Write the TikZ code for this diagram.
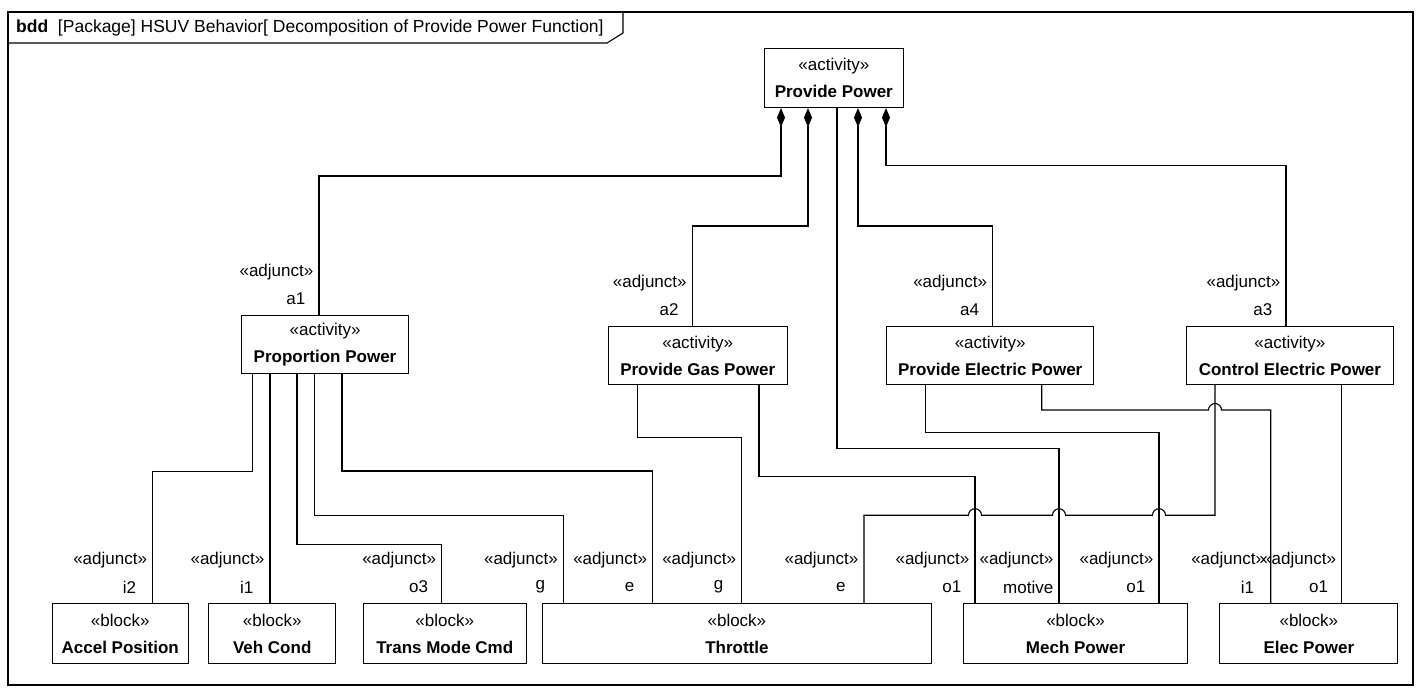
\documentclass[tikz,border=0pt]{standalone}
\usepackage{fontspec}
\setmainfont{Liberation Sans}
\usetikzlibrary{arrows.meta}
\newcommand\adjlabel[4]{%
  \node[stereo] (#4s) at (#1-5.5,#2-43) {«adjunct»};
  \node[rolename] (#4n) at (#1-5.5,#2-16) {#3};}
\begin{document}
\begin{tikzpicture}[x=1pt,y=-1pt,
  every node/.style={font=\fontsize{17}{27}\selectfont},
  box/.style={draw, line width=1.1pt, inner sep=0pt, align=center, anchor=north west},
  conn/.style={line width=1.1pt},
  comp/.style={conn, {Diamond[length=19pt,width=8pt]}-},
  stereo/.style={anchor=east, inner sep=0pt},
  rolename/.style={anchor=east, inner sep=0pt, minimum width=35pt, align=center},
]
\useasboundingbox (0,0) rectangle (1419,689);
% frame
\draw[conn] (8,12) rectangle (1413,685);
\draw[conn] (8,43) -- (607,43) -- (623,33) -- (623,12);
\node[anchor=west, inner sep=0pt, font=\fontsize{17.5}{21}\selectfont] (title) at (16,27.5) {\textbf{bdd}\ \ [Package] HSUV Behavior[ Decomposition of Provide Power Function]};

% activities
\node[box, minimum width=139.5pt, minimum height=59pt] (pp) at (763.5,48) {«activity»\\\textbf{Provide Power}};
\node[box, minimum width=167pt, minimum height=58pt] (prop) at (241,315) {«activity»\\\textbf{Proportion Power}};
\node[box, minimum width=179pt, minimum height=58pt] (pgp) at (607.7,326) {«activity»\\\textbf{Provide Gas Power}};
\node[box, minimum width=207.3pt, minimum height=58pt] (pep) at (886,326) {«activity»\\\textbf{Provide Electric Power}};
\node[box, minimum width=206.7pt, minimum height=58pt] (cep) at (1186,326) {«activity»\\\textbf{Control Electric Power}};

% blocks
\node[box, minimum width=136pt, minimum height=60pt] (accel) at (51.7,603) {«block»\\\textbf{Accel Position}};
\node[box, minimum width=126.7pt, minimum height=60pt] (veh) at (208.3,603) {«block»\\\textbf{Veh Cond}};
\node[box, minimum width=163pt, minimum height=60pt] (trans) at (362.7,603) {«block»\\\textbf{Trans Mode Cmd}};
\node[box, minimum width=389.3pt, minimum height=60pt] (thr) at (541.7,603) {«block»\\\textbf{Throttle}};
\node[box, minimum width=223.4pt, minimum height=60pt] (mech) at (963.3,603) {«block»\\\textbf{Mech Power}};
\node[box, minimum width=178pt, minimum height=60pt] (elec) at (1219.3,603) {«block»\\\textbf{Elec Power}};

% composition connectors
\draw[comp] (pp.south -| 781,0) |- (319,176) -- (prop.north -| 319,0);
\draw[comp] (pp.south -| 808,0) |- (692.3,226) -- (pgp.north -| 692.3,0);
\draw[comp] (pp.south -| 858,0) |- (992.7,226) -- (pep.north -| 992.7,0);
\draw[comp] (pp.south -| 886,0) |- (1286,165.7) -- (cep.north -| 1286,0);
\draw[conn] (pp.south -| 837,0) |- (1059,448.3) -- (mech.north -| 1059,0);

% proportion power
\draw[conn] (prop.south -| 252.5,0) |- (152.7,471.5) -- (accel.north -| 152.7,0);
\draw[conn] (prop.south -| 270,0) -- (veh.north -| 270,0);
\draw[conn] (prop.south -| 297,0) |- (441.7,544.3) -- (trans.north -| 441.7,0);
\draw[conn] (prop.south -| 314.5,0) |- (563.5,515.2) -- (thr.north -| 563.5,0);
\draw[conn] (prop.south -| 342,0) |- (652.7,471) -- (thr.north -| 652.7,0);

% gas power
\draw[conn] (pgp.south -| 637.3,0) |- (741.7,437.3) -- (thr.north -| 741.7,0);
\draw[conn] (pgp.south -| 759,0) |- (975,476.7) -- (mech.north -| 975,0);

% electric power
\draw[conn] (pep.south -| 925.7,0) |- (1159,432.3) -- (mech.north -| 1159,0);
\draw[conn] (pep.south -| 1041.7,0) -- (1041.7,410) -- (1208.5,410) arc(180:360:6.5) -- (1270.7,410) -- (elec.north -| 1270.7,0);

% control electric power
\draw[conn] (cep.south -| 1215,0) -- (1215,515.2) -- (1165.5,515.2) arc(0:-180:6.5) -- (1065.5,515.2) arc(0:-180:6.5) -- (981.5,515.2) arc(0:-180:6.5) -- (864,515.2) -- (thr.north -| 864,0);
\draw[conn] (cep.south -| 1341.7,0) -- (elec.north -| 1341.7,0);

% role labels
\adjlabel{319}{315}{a1}{la1}
\adjlabel{692.3}{326}{a2}{la2}
\adjlabel{992.7}{326}{a4}{la4}
\adjlabel{1286}{326}{a3}{la3}
\adjlabel{152.7}{603}{i2}{li2}
\adjlabel{270}{603}{i1}{li1}
\adjlabel{441.7}{603}{o3}{lo3}
\adjlabel{563.5}{603}{g}{lg1}
\adjlabel{652.7}{603}{e}{le1}
\adjlabel{741.7}{603}{g}{lg2}
\adjlabel{864}{603}{e}{le2}
\adjlabel{975}{603}{o1}{lo1a}
\adjlabel{1059}{603}{motive}{lmot}
\adjlabel{1159}{603}{o1}{lo1b}
\adjlabel{1270.7}{603}{i1}{li1b}
\adjlabel{1341.7}{603}{o1}{lo1c}
\end{tikzpicture}
\end{document}
